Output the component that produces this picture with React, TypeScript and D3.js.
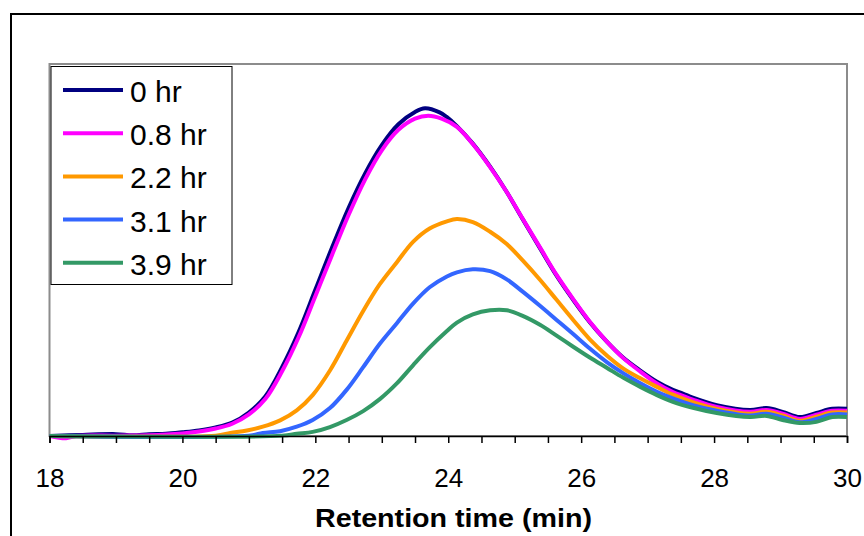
import React, { useEffect, useRef } from 'react';
import * as d3 from 'd3';

// retention time (min) / detector response
const navy0 = [
  [18, 0], [18.5, 0.3], [19, 0.5], [19.25, 0.2], [19.5, 0.5], [19.75, 0.6], [20, 1.0],
  [20.25, 1.5], [20.5, 2.3], [20.75, 3.6], [21, 6.3], [21.25, 10.7], [21.5, 18.5],
  [21.75, 28], [22, 39.3], [22.25, 50.6], [22.5, 61.3], [22.75, 70.6], [23, 78.2], [23.25, 83.8],
  [23.5, 87.1], [23.65, 88.1], [23.87, 87], [23.98, 85.7], [24.13, 83.3], [24.37, 78.6],
  [24.63, 72.4], [24.88, 65.6], [25.12, 58.3], [25.38, 50.5], [25.63, 43.1], [25.88, 36.6],
  [26.13, 30.6], [26.39, 25.3], [26.63, 21.1], [26.89, 17.6], [27.14, 14.6], [27.38, 12.4],
  [27.53, 11.4], [27.68, 10.3], [28.04, 8.3], [28.54, 7.0], [28.79, 7.5], [29.03, 6.5],
  [29.29, 5.1], [29.54, 6.2], [29.78, 7.3], [30, 7.3],
];
const magenta08 = [
  [18, 0], [18.25, -0.6], [18.4, 0], [19, 0.1], [19.5, 0.2], [20, 0.7], [20.25, 1.2],
  [20.5, 2.0], [20.75, 3.3], [21, 5.8], [21.25, 10], [21.5, 17.4], [21.75, 26.6], [22, 37.6],
  [22.25, 48.6], [22.5, 59.4], [22.75, 69], [23, 76.8], [23.25, 82.3], [23.5, 85.3],
  [23.7, 86.1], [23.9, 85.3], [24.13, 83.1], [24.37, 78.5], [24.63, 72.3], [24.88, 65.6],
  [25.12, 58.4], [25.38, 50.7], [25.63, 43.3], [25.88, 36.8], [26.13, 30.7], [26.39, 25.3],
  [26.63, 21], [26.89, 17.3], [27.14, 14.1], [27.38, 11.8], [27.53, 10.8], [27.68, 9.8],
  [28.04, 7.8], [28.54, 6.5], [28.79, 7.0], [29.03, 6.0], [29.29, 4.6], [29.54, 5.7],
  [29.78, 6.8], [30, 6.8],
];
const orange22 = [
  [18, 0], [20.5, 0.1], [20.72, 0.8], [20.97, 1.5], [21.21, 2.5], [21.47, 4.2],
  [21.72, 6.9], [21.96, 11.0], [22.22, 17.6], [22.47, 25.6], [22.72, 33.6], [22.97, 40.8],
  [23.23, 46.8], [23.47, 52.2], [23.72, 55.8], [23.98, 57.7], [24.13, 58.3], [24.37, 57.5],
  [24.63, 54.9], [24.88, 51.6], [25.12, 47.2], [25.38, 42.0], [25.63, 36.6], [25.88, 31.2],
  [26.13, 26.0], [26.39, 21.6], [26.63, 18.2], [26.89, 15.5], [27.14, 13.2], [27.38, 11.1],
  [27.68, 9.1], [28.04, 7.3], [28.54, 6.0], [28.79, 6.5], [29.03, 5.5], [29.29, 4.1],
  [29.54, 5.2], [29.78, 6.3], [30, 6.3],
];
const blue31 = [
  [18, 0], [21, 0.1], [21.21, 0.8], [21.47, 1.3], [21.72, 2.5], [21.96, 4.3], [22.22, 7.5],
  [22.47, 12.4], [22.72, 18.5], [22.97, 24.8], [23.23, 30.4], [23.47, 35.6], [23.72, 40.0],
  [23.98, 42.9], [24.13, 44.0], [24.37, 44.8], [24.63, 44.3], [24.88, 42.1], [25.12, 38.8],
  [25.38, 35.0], [25.63, 31.2], [25.88, 27.4], [26.13, 23.5], [26.39, 19.8], [26.63, 16.9],
  [26.89, 14.2], [27.14, 11.9], [27.38, 10.1], [27.68, 8.3], [28.04, 6.8], [28.54, 5.5],
  [28.79, 6.0], [29.03, 5.0], [29.29, 3.7], [29.54, 4.6], [29.78, 5.8], [30, 5.8],
];
const green39 = [
  [18, 0], [21.5, 0.1], [21.72, 0.6], [21.96, 1.1], [22.22, 2.4], [22.47, 4.3], [22.72, 6.7],
  [22.97, 9.9], [23.23, 14.2], [23.47, 19.0], [23.72, 23.8], [23.98, 28.2], [24.13, 30.5],
  [24.37, 32.7], [24.63, 33.8], [24.88, 33.8], [25.12, 32.3], [25.38, 29.9], [25.63, 27.0],
  [25.88, 24.0], [26.13, 21.1], [26.39, 18.3], [26.63, 15.7], [26.89, 13.2], [27.14, 11.0],
  [27.38, 9.2], [27.68, 7.6], [28.04, 6.2], [28.54, 5.1], [28.79, 5.4], [29.03, 4.3],
  [29.29, 3.5], [29.54, 3.8], [29.78, 5.1], [30, 5.1],
];

const seriesNames = ['0 hr', '0.8 hr', '2.2 hr', '3.1 hr', '3.9 hr'];
const seriesData = [navy0, magenta08, orange22, blue31, green39];
const seriesColors = ['#000080', '#FF00FF', '#FF9900', '#3366FF', '#339966'];
const xTicks = d3.range(18, 30.01, 0.5);

const W = 864;
const H = 536;
const left = 49.5, right = 847, top = 64, bottom = 436;

export default function App() {
  const axisRef = useRef<SVGGElement>(null);

  const x = d3.scaleLinear().domain([18, 30]).range([left, right]);
  const y = d3.scaleLinear().domain([0, 100]).range([bottom, top]);

  const line = d3
    .line<number[]>()
    .x((d) => x(d[0]))
    .y((d) => y(d[1]))
    .curve(d3.curveCatmullRom.alpha(0.5));

  useEffect(() => {
    const g = d3.select(axisRef.current);
    g.selectAll('*').remove();
    g.call(
      d3
        .axisBottom(x)
        .tickValues(xTicks)
        .tickSize(7)
        .tickFormat((d: any) => (d % 2 === 0 ? String(d) : '')),
    );
    g.select('.domain').attr('stroke', '#000').attr('stroke-width', 1.5);
    g.selectAll('.tick line').attr('stroke', '#000').attr('stroke-width', 1.5);
    g.selectAll('.tick text')
      .attr('y', 51)
      .attr('dy', 0)
      .attr('fill', '#000')
      .style('font-family', 'Arial, "Liberation Sans", sans-serif')
      .style('font-size', '26px');
  }, []);

  return (
    <svg
      width={W}
      height={H}
      style={{ position: 'absolute', left: 0, top: 0, background: '#fff' }}
    >
      <rect x={0} y={0} width={W} height={H} fill="#fff" />
      {/* outer chart border */}
      <rect x={11} y={14} width={W + 20} height={H + 20} fill="none" stroke="#000" strokeWidth={2} />
      {/* plot area border */}
      <rect
        x={left}
        y={top}
        width={right - left}
        height={bottom - top}
        fill="none"
        stroke="#8c8c8c"
        strokeWidth={2}
      />

      {seriesData.map((d, i) => (
        <path
          key={seriesNames[i]}
          d={line(d) || ''}
          fill="none"
          stroke={seriesColors[i]}
          strokeWidth={4}
          strokeLinejoin="round"
        />
      ))}

      <g ref={axisRef} transform={`translate(0,${bottom})`} />

      <text
        x={453.5}
        y={527}
        textAnchor="middle"
        textLength={277}
        lengthAdjust="spacingAndGlyphs"
        style={{ fontFamily: 'Arial, "Liberation Sans", sans-serif', fontSize: 26, fontWeight: 'bold' }}
      >
        Retention time (min)
      </text>

      {/* legend */}
      <g>
        <rect x={51} y={66.5} width={181} height={218} fill="#fff" stroke="#000" strokeWidth={1} />
        {seriesNames.map((name, i) => {
          const ly = 90 + i * 43.2;
          return (
            <g key={name}>
              <line x1={63} x2={123} y1={ly} y2={ly} stroke={seriesColors[i]} strokeWidth={4} />
              <text
                x={130}
                y={ly + 12}
                style={{ fontFamily: 'Arial, "Liberation Sans", sans-serif', fontSize: 30 }}
              >
                {name}
              </text>
            </g>
          );
        })}
      </g>
    </svg>
  );
}
